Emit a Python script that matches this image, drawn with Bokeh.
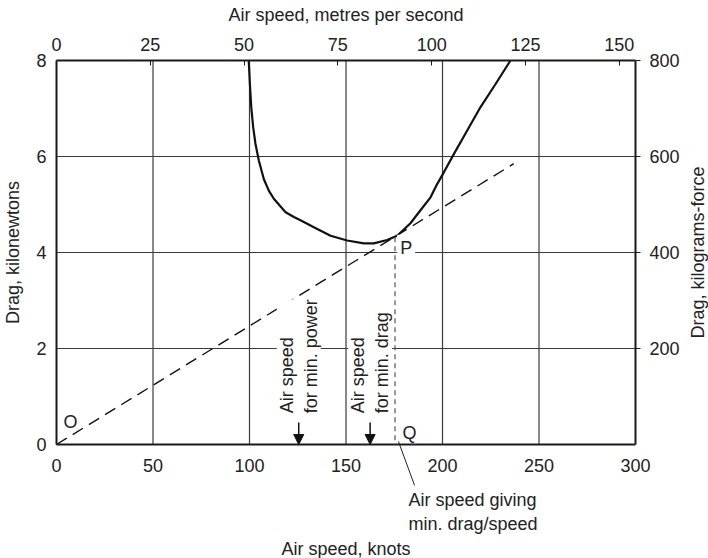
import math
from bokeh.plotting import figure
from bokeh.models import (Range1d, LinearAxis, FixedTicker, Label, Arrow,
                          NormalHead)
from bokeh.embed import file_html
from bokeh.resources import INLINE

# ---- data ----
curve_knots = [99.6, 100.2, 100.9, 101.9, 103.1, 104.8, 107.4, 110.0, 112.6,
               116.1, 118.7, 123.0, 126.4, 135.1, 142.0, 150.6, 159.2, 164.4,
               171.3, 176.5, 183.4, 188.6, 193.8, 197.3, 200.7, 206.0, 212.8,
               219.7, 227.5, 235.2]
curve_drag_kn = [8.0, 7.51, 7.03, 6.61, 6.26, 5.92, 5.53, 5.29, 5.12,
                 4.96, 4.84, 4.74, 4.67, 4.49, 4.35, 4.25, 4.19, 4.19,
                 4.26, 4.35, 4.61, 4.88, 5.15, 5.43, 5.67, 6.06, 6.54,
                 7.03, 7.51, 8.0]
tangent_knots = [0, 236.9]
tangent_drag_kn = [0, 5.85]
pq_knots = [175.4, 175.4]
pq_drag_kn = [4.32, 0]
min_power_knots = 125.5
min_drag_knots = 162.5

KNOTS_MAX = 300
KN_MAX = 8
knots_ticks = [0, 50, 100, 150, 200, 250, 300]
grid_knots = [50, 100, 150, 200, 250]
ms_ticks = [0, 25, 50, 75, 100, 125, 150]
kn_ticks = [0, 2, 4, 6, 8]
grid_kn = [2, 4, 6]
kgf_ticks = [200, 400, 600, 800]
KNOTS_PER_MS = 1.94384
KGF_PER_KN = 100

FONT = "Liberation Sans"
FS = "18px"
TXT = "#222222"
GRID = "#3a3a3a"

# The whole canvas is the plotting frame; the chart box spans 0..300 knots
# and 0..8 kN inside it, so that the notes outside the box can be drawn too.
X0, X1 = -29.02, 337.82
Y0, Y1 = -2.375, 9.25
p = figure(width=708, height=558, output_backend="svg", toolbar_location=None,
           x_range=Range1d(X0, X1), y_range=Range1d(Y0, Y1),
           min_border=0)
p.outline_line_color = None
p.background_fill_color = "white"
p.xgrid.visible = False
p.ygrid.visible = False

p.extra_x_ranges = {"ms": Range1d(X0 / KNOTS_PER_MS, X1 / KNOTS_PER_MS)}
p.extra_y_ranges = {"kgf": Range1d(Y0 * KGF_PER_KN, Y1 * KGF_PER_KN)}

def style_axis(ax):
    ax.axis_line_color = "#1a1a1a"
    ax.axis_line_width = 2
    ax.major_label_text_font = FONT
    ax.major_label_text_font_size = FS
    ax.major_label_text_color = TXT
    ax.axis_label_text_font = FONT
    ax.axis_label_text_font_size = FS
    ax.axis_label_text_font_style = "normal"
    ax.axis_label_text_color = TXT
    ax.minor_tick_line_color = None
    ax.major_tick_line_color = "#1a1a1a"

bx = p.xaxis[0]
style_axis(bx)
bx.ticker = FixedTicker(ticks=knots_ticks)
bx.bounds = (0, KNOTS_MAX)
bx.axis_label = "Air speed, knots"
bx.fixed_location = 0
bx.major_tick_in = 0
bx.major_tick_out = 0
bx.major_label_standoff = 14
bx.axis_label_standoff = 64

ly = p.yaxis[0]
style_axis(ly)
ly.ticker = FixedTicker(ticks=kn_ticks)
ly.bounds = (0, KN_MAX)
ly.fixed_location = 0
ly.axis_label = "Drag, kilonewtons"
ly.major_tick_in = 0
ly.major_tick_out = 0
ly.major_label_standoff = 10
ly.axis_label_standoff = 10

tx = LinearAxis(x_range_name="ms", ticker=FixedTicker(ticks=ms_ticks),
                axis_label="Air speed, metres per second",
                bounds=(0, KNOTS_MAX / KNOTS_PER_MS), fixed_location=KN_MAX)
style_axis(tx)
tx.major_tick_in = 5
tx.major_tick_out = 0
tx.major_label_standoff = 10
tx.axis_label_standoff = 10
p.add_layout(tx, "above")

ry = LinearAxis(y_range_name="kgf", ticker=FixedTicker(ticks=kgf_ticks),
                bounds=(0, KN_MAX * KGF_PER_KN), fixed_location=KNOTS_MAX)
style_axis(ry)
ry.major_tick_in = 0
ry.major_tick_out = 5
ry.major_label_standoff = 9
p.add_layout(ry, "right")

# grid lines, limited to the chart box
p.segment(x0=grid_knots, y0=[0] * len(grid_knots), x1=grid_knots,
          y1=[KN_MAX] * len(grid_knots), line_color=GRID, line_width=1.2,
          level="underlay")
p.segment(x0=[0] * len(grid_kn), y0=grid_kn, x1=[KNOTS_MAX] * len(grid_kn),
          y1=grid_kn, line_color=GRID, line_width=1.2, level="underlay")

# ---- marks ----
p.line(curve_knots, curve_drag_kn, line_color="#111111", line_width=2.2)
p.line(tangent_knots, tangent_drag_kn, line_color="#111111", line_width=1.4,
       line_dash="12 7")
p.line(pq_knots, pq_drag_kn, line_color="#555555", line_width=1.2,
       line_dash="5 4")

def lab(x, y, text, **kw):
    d = dict(text_font=FONT, text_font_size=FS, text_color=TXT)
    d.update(kw)
    p.add_layout(Label(x=x, y=y, text=text, **d))

# title of the right-hand (kilograms-force) axis, reading bottom to top
lab(332.6, KN_MAX / 2, "Drag, kilograms-force", angle=math.pi / 2,
    text_align="center", text_baseline="middle")

lab(7.3, 0.46, "O", text_align="center", text_baseline="middle")
lab(182.9, 0.25, "Q", text_align="center", text_baseline="middle")
lab(176.5, 4.10, "P", text_align="left", text_baseline="middle",
    background_fill_color="white", padding=3)

lab(min_power_knots, 0.65, "Air speed\nfor min. power", angle=math.pi / 2,
    text_align="left", text_baseline="middle", background_fill_color="white")
lab(min_drag_knots, 0.65, "Air speed\nfor min. drag", angle=math.pi / 2,
    text_align="left", text_baseline="middle", background_fill_color="white")

for xk in (min_power_knots, min_drag_knots):
    p.add_layout(Arrow(x_start=xk, y_start=0.46, x_end=xk, y_end=0.0,
                       line_color="#111111", line_width=1.5,
                       end=NormalHead(size=10, fill_color="#111111",
                                      line_color="#111111")))

p.add_layout(Arrow(x_start=177.2, y_start=0.06, x_end=185.5, y_end=-0.85,
                   line_color="#222222", line_width=1, end=None))
lab(182.4, -0.94, "Air speed giving\nmin. drag/speed", text_align="left",
    text_baseline="top")

open("out.html", "w").write(file_html(p, INLINE))
